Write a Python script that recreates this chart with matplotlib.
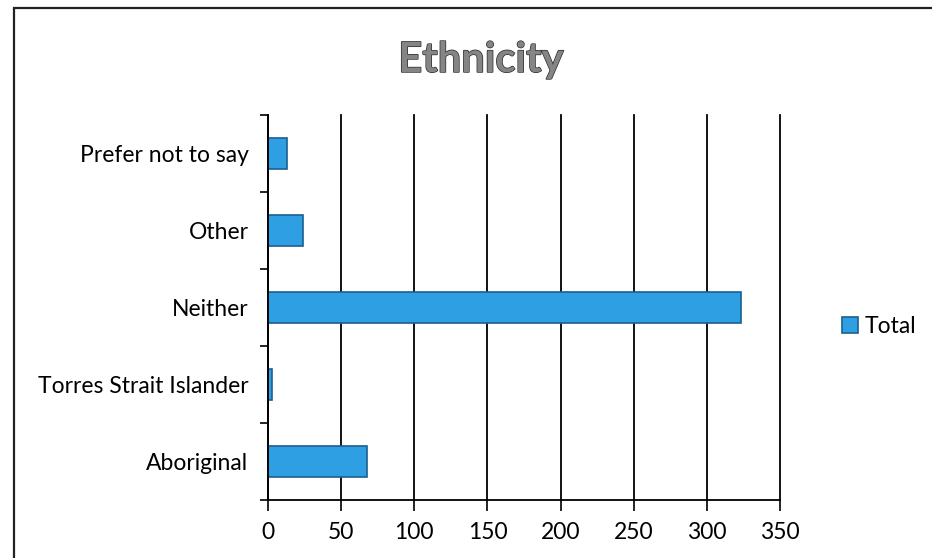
import matplotlib.pyplot as plt
import matplotlib.patheffects as pe
from matplotlib.patches import Rectangle
import numpy as np

categories = ['Aboriginal', 'Torres Strait Islander', 'Neither', 'Other', 'Prefer not to say']
totals = [68, 3, 323, 24, 13]
xticks = [0, 50, 100, 150, 200, 250, 300, 350]

plt.rcParams['font.family'] = ['Lato', 'DejaVu Sans']

fig = plt.figure(figsize=(9.32, 5.58), dpi=100)
fig.patches.append(Rectangle((14 / 932, -0.1), 1.2, 1 - 8 / 558 + 0.1,
                             transform=fig.transFigure, fill=False,
                             edgecolor='#222222', linewidth=1.6))

ax = fig.add_axes([268 / 932, 1 - 500 / 558, 512 / 932, 385 / 558])
y = np.arange(len(categories))
ax.barh(y, totals, height=0.4, color='#2e9fe2', edgecolor='#1c5f8e',
        linewidth=1.2, label='Total')
ax.set_xlim(0, 350)
ax.set_ylim(-0.5, len(categories) - 0.5)
ax.set_xticks(xticks)
ax.set_yticks(y)
ax.set_yticklabels(categories)
ax.set_yticks(np.arange(-0.5, len(categories), 1), minor=True)
ax.tick_params(axis='y', which='major', length=0, pad=14, labelsize=16.5)
ax.tick_params(axis='y', which='minor', length=6, width=1.2, direction='out')
ax.tick_params(axis='x', length=8, width=1.2, labelsize=16.5, pad=8)
ax.grid(axis='x', color='black', linewidth=1.3)
for line in ax.get_xgridlines():
    line.set_clip_on(False)
ax.set_axisbelow(True)
for s in ['top', 'right']:
    ax.spines[s].set_visible(False)
for s in ['left', 'bottom']:
    ax.spines[s].set_linewidth(1.3)

fig.text(481 / 932, 1 - 60 / 558, 'Ethnicity', ha='center', va='center',
         fontsize=30, fontweight='bold', color='#858585',
         path_effects=[pe.withStroke(linewidth=1.0, foreground='#2a2a2a')])

ax.legend(loc='center left', bbox_to_anchor=(1.08, 0.45), frameon=False,
          fontsize=16.5, handlelength=0.7, handleheight=0.7, handletextpad=0.3)

fig.savefig('out.png', dpi=100)
